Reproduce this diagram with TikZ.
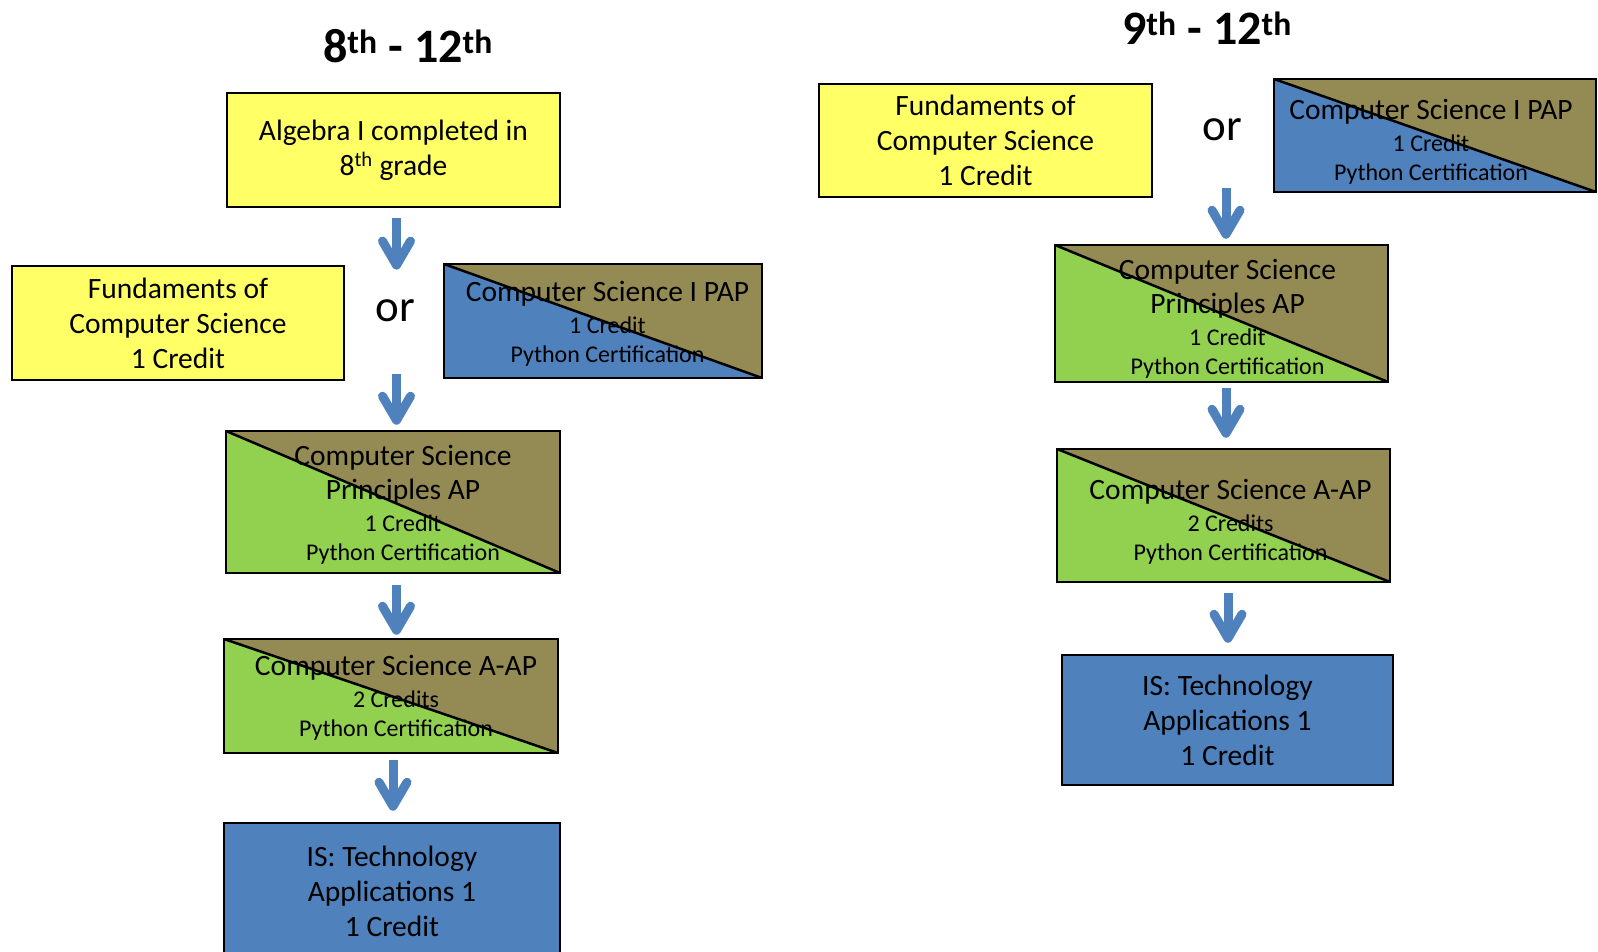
\documentclass[tikz,border=0pt]{standalone}
\usepackage{fontspec}
\setmainfont{Carlito}
\usetikzlibrary{arrows.meta}
\definecolor{cyel}{RGB}{255,255,102}
\definecolor{cblue}{RGB}{79,129,189}
\definecolor{colive}{RGB}{148,138,84}
\definecolor{cgreen}{RGB}{146,208,80}
\newcommand\smtxt{\fontsize{24}{29}\selectfont}
\tikzset{
 box/.style={draw=black, line width=2.5pt, inner sep=0pt, align=center, font=\fontsize{29.5}{35}\selectfont},
 txt/.style={inner sep=0pt, align=center, font=\fontsize{29.5}{35}\selectfont},
 yel/.style={box, fill=cyel},
 bluebox/.style={box, fill=cblue},
 split/.style 2 args={box, path picture={
   \fill[#1] (path picture bounding box.north west) -- (path picture bounding box.south west) -- (path picture bounding box.south east) -- cycle;
   \fill[#2] (path picture bounding box.north west) -- (path picture bounding box.north east) -- (path picture bounding box.south east) -- cycle;
   \draw[black, line width=2.5pt] (path picture bounding box.north west) -- (path picture bounding box.south east);}},
 sz/.style 2 args={minimum width=#1pt, minimum height=#2pt},
 arr/.style={draw=cblue, line width=9pt, -{Straight Barb[length=24pt,width=28pt,round]}},
 titletext/.style={font=\fontsize{48}{56}\selectfont\bfseries, anchor=base},
 ortext/.style={font=\fontsize{45}{52}\selectfont, inner sep=0pt, text height=21pt, text depth=0pt, anchor=south},
}
\begin{document}
\begin{tikzpicture}[x=1pt,y=-1pt]
\useasboundingbox (0,0) rectangle (1598,952);
\clip (0,0) rectangle (1598,952);
% titles
\node[titletext] (t1) at (408,63) {8\textsuperscript{th} - 12\textsuperscript{th}};
\node[titletext] (t2) at (1207,45) {9\textsuperscript{th} - 12\textsuperscript{th}};
% left column
\node[yel, sz={333}{114}] (alg) at (393.5,150) {Algebra I completed in\\8\textsuperscript{th} grade};
\node[yel, sz={332}{114}] (fundL) at (178,323) {Fundaments of\\Computer Science\\1 Credit};
\node[ortext] (orL) at (395,322) {or};
\node[split={cblue}{colive}, sz={318}{114}] (papL) at (603,321) {};
\node[txt] (papLt) at ([shift={(4.5,3)}]papL.center) {Computer Science I PAP\\[-3pt]\smtxt 1 Credit\\[-6pt]\smtxt Python Certification};
\node[split={cgreen}{colive}, sz={334}{142}] (cspL) at (393,502) {};
\node[txt] (cspLt) at ([shift={(10,3)}]cspL.center) {Computer Science\\[-1pt]Principles AP\\[-3pt]\smtxt 1 Credit\\[-6pt]\smtxt Python Certification};
\node[split={cgreen}{colive}, sz={334}{114}] (aapL) at (391,696) {};
\node[txt] (aapLt) at ([shift={(5,2)}]aapL.center) {Computer Science A-AP\\[-3pt]\smtxt 2 Credits\\[-6pt]\smtxt Python Certification};
\node[bluebox, sz={336}{137}] (isL) at (392,891.5) {IS: Technology\\Applications 1\\1 Credit};
% right column
\node[yel, sz={333}{113}] (fundR) at (985.5,140.5) {Fundaments of\\Computer Science\\1 Credit};
\node[ortext] (orR) at (1222,141) {or};
\node[split={cblue}{colive}, sz={322}{113}] (papR) at (1435,135.5) {};
\node[txt] (papRt) at ([shift={(-4,6)}]papR.center) {Computer Science I PAP\\[-3pt]\smtxt 1 Credit\\[-6pt]\smtxt Python Certification};
\node[split={cgreen}{colive}, sz={333}{137}] (cspR) at (1221.5,313.5) {};
\node[txt] (cspRt) at ([shift={(6,5)}]cspR.center) {Computer Science\\[-1pt]Principles AP\\[-3pt]\smtxt 1 Credit\\[-6pt]\smtxt Python Certification};
\node[split={cgreen}{colive}, sz={333}{133}] (aapR) at (1223.5,515.5) {};
\node[txt] (aapRt) at ([shift={(7,6)}]aapR.center) {Computer Science A-AP\\[-3pt]\smtxt 2 Credits\\[-6pt]\smtxt Python Certification};
\node[bluebox, sz={331}{130}] (isR) at (1227.5,720) {IS: Technology\\Applications 1\\1 Credit};
% arrows left
\draw[arr, shorten <=10pt, shorten >=31pt] ([xshift=1.5pt]alg.south -| orL.north) -- ([xshift=1.5pt]orL.north);
\draw[arr, shorten <=52pt, shorten >=5pt] ([xshift=1.5pt]orL.south) -- ([xshift=1.5pt]cspL.north -| orL.south);
\draw[arr, shorten <=11pt, shorten >=3pt] ([xshift=1.5pt]cspL.south -| orL.south) -- ([xshift=1.5pt]aapL.north -| orL.south);
\draw[arr, shorten <=6pt, shorten >=11pt] ([xshift=2pt]aapL.south) -- ([xshift=2pt]isL.north -| aapL.south);
% arrows right
\draw[arr, shorten <=47pt, shorten >=5pt] ([xshift=4pt]orR.south) -- ([xshift=4pt]cspR.north -| orR.south);
\draw[arr, shorten <=5pt, shorten >=10pt] ([xshift=4pt]cspR.south -| orR.south) -- ([xshift=4pt]aapR.north -| orR.south);
\draw[arr, shorten <=10pt, shorten >=11pt] ([xshift=6pt]aapR.south -| orR.south) -- ([xshift=6pt]isR.north -| orR.south);
\end{tikzpicture}
\end{document}
